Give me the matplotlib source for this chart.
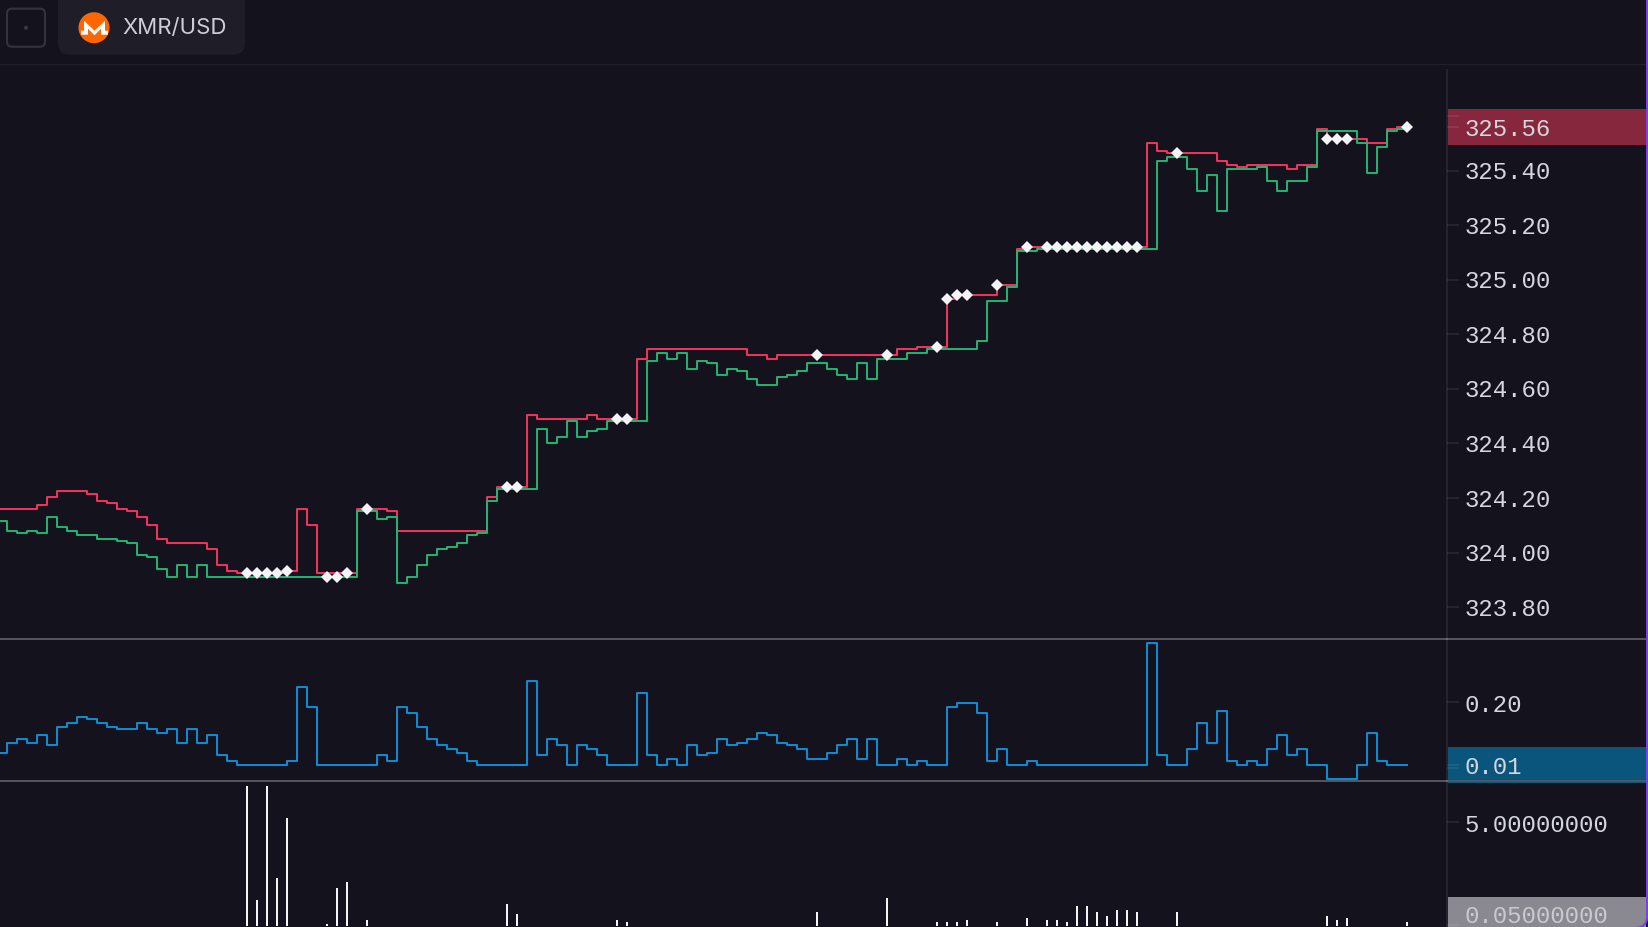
import numpy as np
import matplotlib

# Force matplotlib to not use any Xwindows backend.
matplotlib.use("Agg")
import matplotlib.pyplot as plt
from matplotlib.patches import Circle, FancyBboxPatch, Polygon, Rectangle, Arc
from matplotlib.transforms import ScaledTranslation

W, H = 1648, 928
BG = "#14131d"
# The whole layout sits a fraction of a pixel lower than the whole-pixel rows
SHIFT = 0.7
TICK_COLOR = (1, 1, 1, 0.09)
MONO = "Liberation Mono"

ask = [
    324.160, 324.160, 324.160, 324.160, 324.175, 324.204, 324.226, 324.226, 324.226, 324.213,
    324.190, 324.182, 324.160, 324.153, 324.131, 324.102, 324.050, 324.036, 324.036, 324.036,
    324.036, 324.014, 323.955, 323.933, 323.926, 323.926, 323.926, 323.926, 323.926, 323.933,
    324.160, 324.102, 323.926, 323.926, 323.926, 323.926, 324.160, 324.160, 324.160, 324.153,
    324.080, 324.080, 324.080, 324.080, 324.080, 324.080, 324.080, 324.080, 324.080, 324.204,
    324.241, 324.241, 324.241, 324.505, 324.490, 324.490, 324.490, 324.490, 324.490, 324.505,
    324.490, 324.490, 324.490, 324.490, 324.710, 324.747, 324.747, 324.747, 324.747, 324.747,
    324.747, 324.747, 324.747, 324.747, 324.747, 324.725, 324.725, 324.710, 324.725, 324.725,
    324.725, 324.725, 324.725, 324.725, 324.725, 324.725, 324.725, 324.725, 324.725, 324.725,
    324.747, 324.747, 324.754, 324.754, 324.754, 324.931, 324.945, 324.945, 324.945, 324.945,
    324.982, 324.982, 325.114, 325.121, 325.121, 325.121, 325.121, 325.121, 325.121, 325.121,
    325.121, 325.121, 325.121, 325.121, 325.121, 325.502, 325.473, 325.466, 325.466, 325.466,
    325.466, 325.466, 325.436, 325.422, 325.414, 325.422, 325.422, 325.422, 325.422, 325.407,
    325.422, 325.422, 325.554, 325.517, 325.517, 325.517, 325.517, 325.502, 325.502, 325.554,
    325.561, 325.561,
]

bid = [
    324.116, 324.080, 324.072, 324.080, 324.072, 324.131, 324.094, 324.080, 324.065, 324.065,
    324.050, 324.050, 324.043, 324.036, 323.992, 323.984, 323.940, 323.911, 323.955, 323.911,
    323.955, 323.911, 323.911, 323.911, 323.911, 323.911, 323.911, 323.911, 323.911, 323.911,
    323.911, 323.911, 323.911, 323.911, 323.911, 323.911, 324.153, 324.153, 324.124, 324.131,
    323.889, 323.911, 323.955, 323.992, 324.014, 324.021, 324.036, 324.065, 324.072, 324.190,
    324.234, 324.234, 324.234, 324.234, 324.453, 324.402, 324.424, 324.483, 324.424, 324.446,
    324.453, 324.483, 324.483, 324.483, 324.483, 324.703, 324.732, 324.710, 324.732, 324.673,
    324.703, 324.695, 324.651, 324.673, 324.666, 324.637, 324.615, 324.615, 324.644, 324.651,
    324.666, 324.695, 324.695, 324.673, 324.651, 324.637, 324.695, 324.637, 324.710, 324.710,
    324.710, 324.732, 324.732, 324.747, 324.747, 324.747, 324.747, 324.747, 324.777, 324.923,
    324.923, 324.975, 325.106, 325.106, 325.114, 325.114, 325.114, 325.114, 325.114, 325.114,
    325.114, 325.114, 325.114, 325.114, 325.114, 325.114, 325.436, 325.451, 325.451, 325.407,
    325.326, 325.385, 325.253, 325.407, 325.407, 325.407, 325.414, 325.363, 325.326, 325.363,
    325.363, 325.414, 325.546, 325.546, 325.546, 325.546, 325.502, 325.392, 325.488, 325.546,
    325.554, 325.554,
]

spread = [
    0.047, 0.077, 0.089, 0.077, 0.101, 0.071, 0.126, 0.138, 0.156, 0.150,
    0.138, 0.126, 0.120, 0.120, 0.138, 0.120, 0.108, 0.120, 0.077, 0.120,
    0.077, 0.101, 0.040, 0.022, 0.010, 0.010, 0.010, 0.010, 0.010, 0.022,
    0.248, 0.187, 0.010, 0.010, 0.010, 0.010, 0.010, 0.010, 0.040, 0.022,
    0.187, 0.169, 0.126, 0.089, 0.071, 0.059, 0.047, 0.022, 0.010, 0.010,
    0.010, 0.010, 0.010, 0.266, 0.040, 0.089, 0.071, 0.010, 0.071, 0.059,
    0.040, 0.010, 0.010, 0.010, 0.230, 0.040, 0.010, 0.028, 0.010, 0.071,
    0.040, 0.047, 0.089, 0.071, 0.077, 0.089, 0.108, 0.101, 0.077, 0.071,
    0.059, 0.028, 0.028, 0.047, 0.071, 0.089, 0.028, 0.089, 0.010, 0.010,
    0.028, 0.010, 0.022, 0.010, 0.010, 0.187, 0.199, 0.199, 0.169, 0.022,
    0.059, 0.010, 0.010, 0.022, 0.010, 0.010, 0.010, 0.010, 0.010, 0.010,
    0.010, 0.010, 0.010, 0.010, 0.010, 0.382, 0.040, 0.010, 0.010, 0.059,
    0.138, 0.077, 0.175, 0.022, 0.010, 0.022, 0.010, 0.059, 0.101, 0.040,
    0.059, 0.010, 0.010, -0.033, -0.033, -0.033, 0.010, 0.108, 0.022, 0.010,
    0.010, 0.010,
]

trade_idx = [
    25, 26, 27, 28, 29, 33, 34, 35, 37, 51, 52, 62, 63, 82, 89, 94, 95, 96, 97, 100, 103,
    105, 106, 107, 108, 109, 110, 111, 112, 113, 114, 118, 133, 134, 135, 141,
]
trade_price = [
    323.926, 323.926, 323.926, 323.926, 323.933, 323.911, 323.911, 323.926, 324.160,
    324.241, 324.241, 324.490, 324.490, 324.725, 324.725, 324.754, 324.931, 324.945,
    324.945, 324.982, 325.121, 325.121, 325.121, 325.121, 325.121, 325.121, 325.121,
    325.121, 325.121, 325.121, 325.121, 325.466, 325.517, 325.517, 325.517, 325.561,
]
trade_size = [
    6.78, 1.26, 6.78, 2.33, 5.23, 0.10, 1.84, 2.13, 0.29, 1.07, 0.58, 0.29, 0.19, 0.68,
    1.36, 0.19, 0.19, 0.19, 0.29, 0.19, 0.39, 0.29, 0.29, 0.19, 0.97, 0.97, 0.68, 0.48,
    0.78, 0.78, 0.68, 0.68, 0.48, 0.29, 0.39, 0.19,
]

price_ticks = [325.60, 325.56, 325.40, 325.20, 325.00, 324.80, 324.60, 324.40, 324.20, 324.00, 323.80]
price_labels = ["", "325.56", "325.40", "325.20", "325.00", "324.80", "324.60", "324.40", "324.20", "324.00", "323.80"]
spread_ticks = [0.20, 0.01, 0.00]
spread_labels = ["0.20", "0.01", ""]
size_ticks = [5.0, 0.05]
size_labels = ["5.00000000", ""]


def pane(top, bottom):
    """Axes covering the chart columns between two pixel rows."""
    top += SHIFT
    bottom += SHIFT
    ax = fig.add_axes([0, 1 - bottom / H, 1447 / W, (bottom - top) / H], zorder=2)
    ax.set_facecolor("none")
    ax.set_xlim(0.33, 145.03)
    ax.set_xticks([])
    for side in ("top", "left", "bottom"):
        ax.spines[side].set_visible(False)
    ax.spines["right"].set_color(TICK_COLOR)
    ax.spines["right"].set_linewidth(1.2)
    ax.yaxis.tick_right()
    ax.tick_params(axis="y", length=8.6, width=1.2, color=TICK_COLOR, pad=4.2,
                   labelsize=17.3, labelcolor="#d6d6de")
    return ax


def raise_labels(ax, points=1.0):
    """Nudge tick labels up so they sit where the reference has them."""
    for label in ax.get_yticklabels():
        label.set_transform(label.get_transform() + ScaledTranslation(0, points / 72, fig.dpi_scale_trans))


fig = plt.figure(figsize=(W / 100, H / 100), dpi=100, facecolor=BG)

# Background layer in pixel coordinates: header, value bands, borders
bg = fig.add_axes([0, 0, 1, 1], zorder=1)
bg.set_xlim(0, W)
bg.set_ylim(H - SHIFT, -SHIFT)
bg.axis("off")
bg.add_patch(Rectangle((0, 64), W, 1.5, color="#22212b", lw=0))
bg.add_patch(FancyBboxPatch((7, 9), 38, 38, boxstyle="round,pad=0,rounding_size=5",
                            fc="none", ec="#33323e", lw=1.5))
bg.add_patch(Circle((26, 28), 2, color="#3a3945", lw=0))
bg.add_patch(FancyBboxPatch((58, -20), 187, 75, boxstyle="round,pad=0,rounding_size=12",
                            fc="#1e1d28", ec="none"))
bg.add_patch(Circle((94, 28), 15.5, color="#ff6600", lw=0))
bg.add_patch(Polygon([(84, 21), (94.5, 31), (105, 21), (105, 31), (108, 31), (108, 35), (101, 35),
                      (101, 29), (94.5, 35.5), (88, 29), (88, 35), (81, 35), (81, 31), (84, 31)],
                     color="white", lw=0))
bg.text(122, 27.5, "XMR/USD", family="Inter", fontsize=16, color="#cdcdd8", va="center", ha="left")
bg.add_patch(Rectangle((1448, 109), 198, 36, color="#87273d", lw=0))
bg.add_patch(Rectangle((1448, 747), 198, 36, color="#0a557c", lw=0))
bg.add_patch(Rectangle((1448, 897), 198, 31, color="#8a8890", lw=0))
bg.add_patch(Rectangle((1646, 0), 2, 918, color="#7a3ff0", lw=0))
bg.add_patch(Arc((1637, 918), 20, 20, theta1=0, theta2=90, color="#7a3ff0", lw=1.5))

xs = np.arange(len(ask))

ax_price = pane(70, 639)
ax_price.set_ylim(323.684, 325.770)
ax_price.plot(xs, ask, drawstyle="steps-post", color="#f8325e", lw=1.4)
ax_price.plot(xs, bid, drawstyle="steps-post", color="#20b674", lw=1.4)
ax_price.plot(trade_idx, trade_price, "D", color="#f4f4f7", ms=6.4, mew=0)
ax_price.set_yticks(price_ticks, price_labels, family=MONO)
raise_labels(ax_price)

ax_spread = pane(639, 781)
ax_spread.set_ylim(-0.0388, 0.394)
ax_spread.plot(xs, spread, drawstyle="steps-post", color="#0a90db", lw=1.4)
ax_spread.set_yticks(spread_ticks, spread_labels, family=MONO)
raise_labels(ax_spread, 0.5)

ax_size = pane(781, 928)
ax_size.set_ylim(-0.097, 7.025)
ax_size.bar(trade_idx, trade_size, width=0.2, color="#f4f4f7")
ax_size.set_yticks(size_ticks, size_labels, family=MONO)
raise_labels(ax_size, 0.5)
# Last size label is pushed up so it stays on the canvas
ax_size.annotate("0.05000000", xy=(1, 0.05), xycoords=ax_size.get_yaxis_transform(),
                 xytext=(12.8, 6.5), textcoords="offset points", va="center", ha="left",
                 family=MONO, fontsize=17.3, color="#c9c9ce", annotation_clip=False)

# Pane dividers
for y in (639, 781):
    bg.add_patch(Rectangle((0, y - 1), 1646, 2, color="#55545c", lw=0, zorder=5))

fig.savefig("out.png", dpi=100, facecolor=BG)
